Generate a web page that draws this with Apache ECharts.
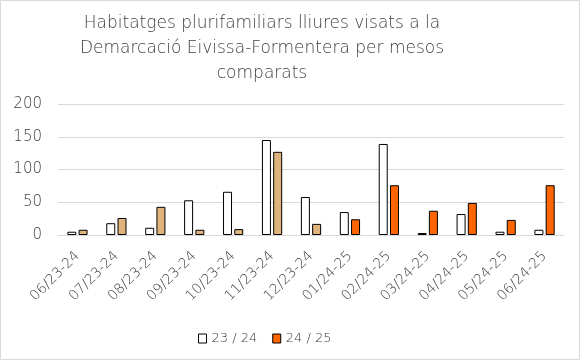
<!DOCTYPE html>
<html><head><meta charset="utf-8">
<script src="https://cdn.jsdelivr.net/npm/echarts@6/dist/echarts.min.js"></script>
<style>html,body{margin:0;padding:0;background:#fff}#c{width:580px;height:360px}</style>
</head><body><div id="c"></div>
<script>
const categories = ['06/23-24','07/23-24','08/23-24','09/23-24','10/23-24','11/23-24','12/23-24','01/24-25','02/24-25','03/24-25','04/24-25','05/24-25','06/24-25'];
const series2324 = [5,18,11,53,66,145,58,35,139,3,32,5,8];
const series2425 = [8,26,43,8,9,127,17,24,76,37,49,23,76];
const yTicks = [0,50,100,150,200];
const seriesNames = ['23 / 24','24 / 25'];
const titleText = 'Habitatges plurifamiliars lliures visats a la\nDemarcació Eivissa-Formentera per mesos\ncomparats';

const FONT = 'DejaVu Sans';
const TXT = '#404040';
const chart = echarts.init(document.getElementById('c'));
chart.setOption({
  animation:false,
  graphic:[
    {type:'rect',shape:{x:0.5,y:0.5,width:579,height:359},style:{fill:'none',stroke:'#d9d9d9',lineWidth:1},silent:true},
    {type:'text',x:262,y:11,silent:true,style:{text:titleText,align:'center',verticalAlign:'top',
      font:'200 17px "DejaVu Sans"',fill:TXT,lineHeight:25}}
  ],
  legend:{
    bottom:10,left:193,itemWidth:8,itemHeight:9,itemGap:15,icon:'rect',
    textStyle:{fontFamily:FONT,fontWeight:200,fontSize:13,color:TXT},
    data:[
      {name:seriesNames[0],itemStyle:{color:'#fff',borderColor:'#000',borderWidth:1}},
      {name:seriesNames[1],itemStyle:{color:'#ff6600',borderColor:'#000',borderWidth:1}}
    ]
  },
  grid:{left:58,right:16,top:104,bottom:125},
  xAxis:{
    type:'category',data:categories,
    axisLine:{lineStyle:{color:'#d9d9d9'}},axisTick:{show:false},
    axisLabel:{rotate:45,interval:0,fontFamily:FONT,fontWeight:200,fontSize:14,color:TXT,margin:19}
  },
  yAxis:{
    type:'value',min:yTicks[0],max:yTicks[yTicks.length-1],interval:50,
    axisLine:{show:false},axisTick:{show:false},
    splitLine:{lineStyle:{color:'#d9d9d9'}},
    axisLabel:{fontFamily:FONT,fontWeight:200,fontSize:15,color:TXT,margin:16}
  },
  series:[
    {name:seriesNames[0],type:'bar',data:series2324,barWidth:9,barGap:'25%',
     itemStyle:{color:'#fff',borderColor:'#000',borderWidth:1}},
    {name:seriesNames[1],type:'bar',data:series2425,barWidth:9,
     itemStyle:{color:p=>p.dataIndex<7?'#deb47c':'#ff6600',borderColor:'#000',borderWidth:1}}
  ]
});
</script></body></html>
